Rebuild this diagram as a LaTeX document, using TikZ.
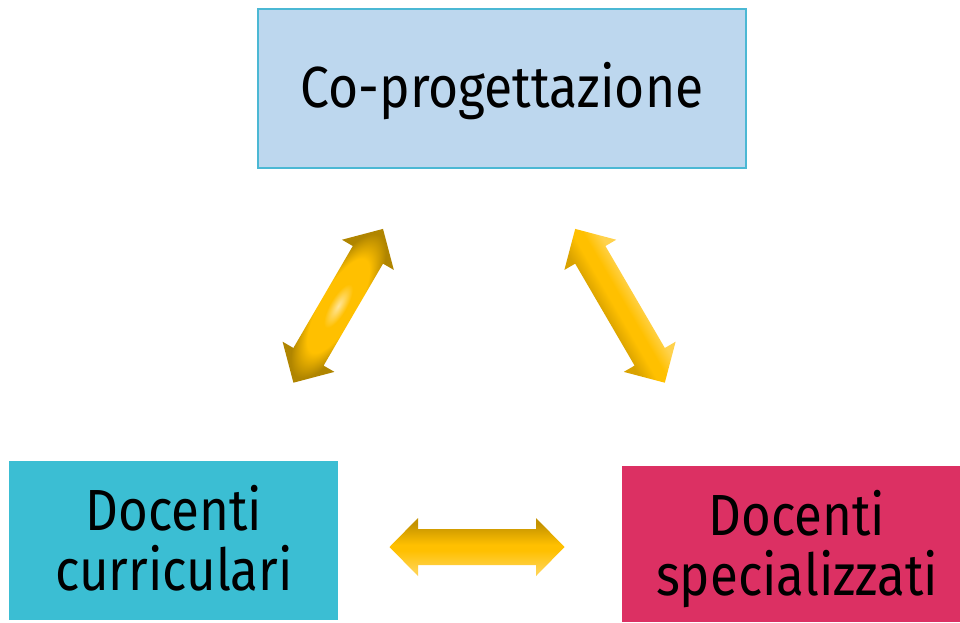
\documentclass[tikz,border=0pt]{standalone}
\usepackage{fontspec}
\setmainfont{Fira Sans}
\newfontfamily\topfont[FakeStretch=0.89]{Fira Sans}
\newfontfamily\botfont[FakeStretch=0.88]{Fira Sans}
\definecolor{topfill}{HTML}{BDD7EE}
\definecolor{topline}{HTML}{4BB8D4}
\definecolor{leftfill}{HTML}{3BBED3}
\definecolor{rightfill}{HTML}{DC3063}
\definecolor{gold}{HTML}{FFC000}
\definecolor{golddark}{HTML}{B08500}
\definecolor{goldedge}{HTML}{D9A200}
\definecolor{goldtop}{HTML}{C49200}
\definecolor{goldlight}{HTML}{FFE59A}
\definecolor{goldpale}{HTML}{FFD24D}
\pgfdeclareradialshading{goldglow}{\pgfpoint{0bp}{0bp}}{color(0bp)=(goldlight); color(7bp)=(gold); color(15bp)=(gold); color(23bp)=(golddark); color(50bp)=(golddark)}
\pgfdeclareverticalshading{goldside}{100bp}{color(0bp)=(goldpale); color(34bp)=(goldpale); color(46bp)=(gold); color(54bp)=(gold); color(66bp)=(goldedge); color(100bp)=(goldedge)}
\pgfdeclareverticalshading{goldband}{100bp}{color(0bp)=(goldpale); color(30bp)=(goldpale); color(47bp)=(gold); color(52bp)=(gold); color(70bp)=(goldtop); color(100bp)=(goldtop)}
\tikzset{
  boxnode/.style={rectangle, inner sep=0pt},
  labeltext/.style={inner sep=0pt, text=black, align=center},
}
\begin{document}
\begin{tikzpicture}[x=1pt,y=1pt]
\useasboundingbox[fill=white] (0,0) rectangle (960,-622);
% boxes
\node[boxnode, fill=topfill, draw=topline, line width=1.5pt, minimum width=488pt, minimum height=159pt] (copro) at (502,-88.5) {};
\node[boxnode, fill=leftfill, minimum width=329pt, minimum height=159pt] (curr) at (173.5,-540.5) {};
\node[boxnode, fill=rightfill, minimum width=338pt, minimum height=156pt] (spec) at (791,-544) {};
% texts
\node[labeltext, anchor=base, font=\topfont\fontsize{58}{60}\selectfont] (coprotext) at (502,-107) {Co-progettazione};
\node[labeltext, anchor=base, font=\botfont\fontsize{58}{60}\selectfont] (currtext) at (174,-590) {Docenti\\curriculari};
\node[labeltext, anchor=base, font=\botfont\fontsize{58}{60}\selectfont] (spectext) at (797,-595) {Docenti\\specializzati};
% left diagonal arrow
\begin{scope}[transform canvas={shift={(338.2,-305.8)}, rotate=59.77}]
\shade[shading=goldglow] (-89,0) -- (-59,30) -- (-59,17.5) -- (59,17.5) -- (59,30) -- (89,0) -- (59,-30) -- (59,-17.5) -- (-59,-17.5) -- (-59,-30) -- cycle;
\end{scope}
% right diagonal arrow
\begin{scope}[transform canvas={shift={(620,-305.8)}, rotate=120.23}]
\shade[shading=goldside] (-89,0) -- (-59,30) -- (-59,17.5) -- (59,17.5) -- (59,30) -- (89,0) -- (59,-30) -- (59,-17.5) -- (-59,-17.5) -- (-59,-30) -- cycle;
\end{scope}
% horizontal arrow
\begin{scope}[transform canvas={shift={(477,-547)}}]
\shade[shading=goldband] (-87.5,0) -- (-59,29) -- (-59,18) -- (59,18) -- (59,29) -- (87.5,0) -- (59,-29) -- (59,-18) -- (-59,-18) -- (-59,-29) -- cycle;
\end{scope}
\end{tikzpicture}
\end{document}
